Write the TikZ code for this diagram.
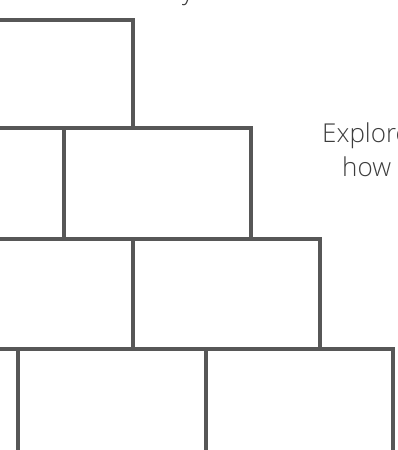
\documentclass[tikz,border=0pt]{standalone}
\usepackage{fontspec}
\setmainfont{Open Sans}[UprightFont=* Light]
\usetikzlibrary{positioning}

\definecolor{wallgray}{HTML}{575757}
\definecolor{textgray}{HTML}{3C3C3C}

\begin{document}
\begin{tikzpicture}[
    x=1pt, y=-1pt,
    brick/.style={draw=wallgray, line width=3.2pt, line join=miter},
    caption/.style={text=textgray, font=\fontsize{26}{34}\selectfont, inner sep=0pt, anchor=base west},
  ]
  \useasboundingbox (0,0) rectangle (397,450);
  \clip (0,0) rectangle (397,450);

  % text cut by the frame
  \node[caption] (ytail) at (182,-1) {y};
  \node[caption] (explore) at (322,142) {Explore};
  \node[caption] (how) at (342,176) {how};

  % top row
  \draw[brick] (-5,20) -- (133,20) -- (133,128);

  % second row
  \draw[brick] (-5,128) -- (251,128) -- (251,239);
  \draw[brick] (64,128) -- (64,239);

  % third row
  \draw[brick] (-5,239) -- (320,239) -- (320,349);
  \draw[brick] (133,239) -- (133,349);

  % bottom row
  \draw[brick] (-5,349) -- (393,349) -- (393,455);
  \draw[brick] (18,349) -- (18,455);
  \draw[brick] (206,349) -- (206,455);
\end{tikzpicture}
\end{document}
